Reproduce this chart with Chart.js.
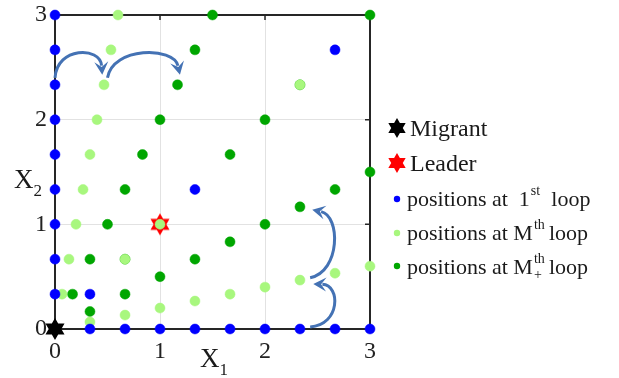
<!DOCTYPE html>
<html>
<head>
<meta charset="utf-8">
<script src="https://cdn.jsdelivr.net/npm/chart.js@4/dist/chart.umd.min.js"></script>
<style>
  html, body { margin: 0; padding: 0; background: #fff; }
  #wrap { position: relative; width: 619px; height: 378px; font-family: "Liberation Serif", "Times New Roman", serif; color: #1a1a1a; }
  #c { position: absolute; left: 0; top: 0; }
  .t { position: absolute; white-space: pre; line-height: 1; }
  .leg { font-size: 22px; }
  .big { font-size: 24px; }
  .stack { display: inline-block; position: relative; width: 16px; height: 10px; }
  .stack .up { position: absolute; left: 1px; top: -12px; font-size: 14px; }
  .stack .dn { position: absolute; left: 1px; top: 4px; font-size: 14px; }
</style>
</head>
<body>
<div id="wrap">
  <canvas id="c" width="619" height="378"></canvas>
  <div class="t" style="left:200px;top:345px;font-size:27px;">X<span style="font-size:17px;position:relative;top:8px;">1</span></div>
  <div class="t" style="left:14px;top:166px;font-size:27px;">X<span style="font-size:17px;position:relative;top:8px;">2</span></div>
  <div class="t big" style="left:410px;top:116px;">Migrant</div>
  <div class="t big" style="left:410px;top:151px;">Leader</div>
  <div class="t leg" style="left:407px;top:188px;">positions at  1<span class="stack"><span class="up">st</span></span> loop</div>
  <div class="t leg" style="left:407px;top:222px;">positions at M<span class="stack"><span class="up">th</span></span>loop</div>
  <div class="t leg" style="left:407px;top:256px;">positions at M<span class="stack"><span class="up">th</span><span class="dn">+</span></span>loop</div>
</div>
<script>
// Agent positions (X1, X2) for each stage of the procedure
const firstLoopX = [0.333, 0.667, 1, 1.333, 1.667, 2, 2.333, 2.667, 3,
                    0, 0, 0, 0, 0, 0, 0, 0, 0,
                    0.333, 1.333, 2.667];
const firstLoopY = [0, 0, 0, 0, 0, 0, 0, 0, 0,
                    0.333, 0.667, 1, 1.333, 1.667, 2, 2.333, 2.667, 3,
                    0.333, 1.333, 2.667];

const mLoopX = [0.6, 0.533, 0.467, 0.4, 0.333, 0.267, 0.2, 0.133, 0.067,
                0.333, 0.667, 1, 1.333, 1.667, 2, 2.333, 2.667, 3,
                2.333, 0.667, 1];
const mLoopY = [3, 2.667, 2.333, 2, 1.667, 1.333, 1, 0.667, 0.333,
                0.067, 0.133, 0.2, 0.267, 0.333, 0.4, 0.467, 0.533, 0.6,
                2.333, 0.667, 1];

const mPlusLoopX = [1.5, 1.333, 1.167, 1, 0.833, 0.667, 0.5, 0.333, 0.167,
                    0.333, 0.667, 1, 1.333, 1.667, 2, 2.333, 2.667, 3,
                    3, 2, 1.667, 2.333, 0.667];
const mPlusLoopY = [3, 2.667, 2.333, 2, 1.667, 1.333, 1, 0.667, 0.333,
                    0.167, 0.333, 0.5, 0.667, 0.833, 1, 1.167, 1.333, 1.5,
                    3, 2, 1.667, 2.333, 0.667];

const migrant = [0, 0];
const leader = [1, 1];

const tickValues = [0, 1, 2, 3];

// Curved arrows: [start, control1, control2, end] in data units
const arrowPaths = [
  [[0.0, 2.40], [0.02, 2.70], [0.43, 2.70], [0.45, 2.43]],
  [[0.50, 2.40], [0.55, 2.70], [1.13, 2.70], [1.19, 2.43]],
  [[2.43, 0.02], [2.72, 0.04], [2.72, 0.42], [2.46, 0.43]],
  [[2.43, 0.49], [2.72, 0.55], [2.72, 1.08], [2.45, 1.14]]
];

const BLUE = '#0000ff';
const LIGHT = '#a8f77e';
const GREEN = '#00a600';
const ARROW = '#4472b4';
const SERIF = '"Liberation Serif", "Times New Roman", serif';

function pts(xs, ys) { return xs.map((x, i) => ({ x: x, y: ys[i] })); }

function hexPath(ctx, cx, cy, r) {
  ctx.beginPath();
  for (let t = 0; t < 2; t++) {
    const off = t === 0 ? -Math.PI / 2 : Math.PI / 2;
    for (let k = 0; k < 3; k++) {
      const a = off + k * 2 * Math.PI / 3;
      const px = cx + r * Math.cos(a), py = cy + r * Math.sin(a);
      if (k === 0) ctx.moveTo(px, py); else ctx.lineTo(px, py);
    }
    ctx.closePath();
  }
}

function hexagram(color, r) {
  const s = Math.ceil(r * 2 + 2);
  const cv = document.createElement('canvas');
  cv.width = s; cv.height = s;
  const g = cv.getContext('2d');
  g.fillStyle = color;
  hexPath(g, s / 2, s / 2, r);
  g.fill('nonzero');
  return cv;
}

const frame = {
  id: 'frame',
  beforeDatasetsDraw(chart) {
    const { ctx, chartArea: a } = chart;
    const xs = chart.scales.x, ys = chart.scales.y;
    ctx.save();
    ctx.strokeStyle = '#262626';
    ctx.lineWidth = 2;
    ctx.strokeRect(a.left, a.top, a.right - a.left, a.bottom - a.top);
    ctx.lineWidth = 1.5;
    ctx.beginPath();
    [1, 2].forEach(v => {
      const px = xs.getPixelForValue(v), py = ys.getPixelForValue(v);
      ctx.moveTo(px, a.top); ctx.lineTo(px, a.top + 5);
      ctx.moveTo(px, a.bottom); ctx.lineTo(px, a.bottom - 5);
      ctx.moveTo(a.right, py); ctx.lineTo(a.right - 5, py);
      ctx.moveTo(a.left, py); ctx.lineTo(a.left + 5, py);
    });
    ctx.stroke();
    ctx.restore();
  },
  afterDatasetsDraw(chart) {
    const { ctx } = chart;
    const xs = chart.scales.x, ys = chart.scales.y;
    ctx.save();
    ctx.strokeStyle = ARROW;
    ctx.fillStyle = ARROW;
    ctx.lineWidth = 3;
    ctx.lineCap = 'butt';
    arrowPaths.forEach(p => {
      const q = p.map(v => [xs.getPixelForValue(v[0]), ys.getPixelForValue(v[1])]);
      const ang = Math.atan2(q[3][1] - q[2][1], q[3][0] - q[2][0]);
      const L = 13, W = 7;
      const ex = q[3][0] - Math.cos(ang) * L * 0.7, ey = q[3][1] - Math.sin(ang) * L * 0.7;
      ctx.beginPath();
      ctx.moveTo(q[0][0], q[0][1]);
      ctx.bezierCurveTo(q[1][0], q[1][1], q[2][0], q[2][1], ex, ey);
      ctx.stroke();
      ctx.beginPath();
      ctx.moveTo(q[3][0], q[3][1]);
      ctx.lineTo(q[3][0] - Math.cos(ang) * L + Math.sin(ang) * W, q[3][1] - Math.sin(ang) * L - Math.cos(ang) * W);
      ctx.lineTo(q[3][0] - Math.cos(ang) * L * 0.6, q[3][1] - Math.sin(ang) * L * 0.6);
      ctx.lineTo(q[3][0] - Math.cos(ang) * L - Math.sin(ang) * W, q[3][1] - Math.sin(ang) * L + Math.cos(ang) * W);
      ctx.closePath();
      ctx.fill();
    });
    ctx.restore();
  },
  afterDraw(chart) {
    // legend markers
    const ctx = chart.ctx;
    ctx.save();
    ctx.fillStyle = '#000';
    hexPath(ctx, 397, 128, 10); ctx.fill();
    ctx.fillStyle = '#ff0000';
    hexPath(ctx, 397, 163, 10); ctx.fill();
    [[BLUE, 199], [LIGHT, 233], [GREEN, 266]].forEach(([c, y]) => {
      ctx.fillStyle = c;
      ctx.beginPath(); ctx.arc(397, y, 3.2, 0, Math.PI * 2); ctx.fill();
    });
    ctx.restore();
  }
};

const dotStyle = (c) => ({ backgroundColor: c, borderColor: c, pointRadius: 5, pointBorderWidth: 0.5, pointHoverRadius: 5, clip: false });

new Chart(document.getElementById('c'), {
  type: 'scatter',
  data: {
    datasets: [
      { label: 'Migrant', data: [{ x: migrant[0], y: migrant[1] }], pointStyle: hexagram('#000', 11), pointRadius: 11, clip: false, order: 0 },
      { label: 'positions at 1st loop', data: pts(firstLoopX, firstLoopY), ...dotStyle(BLUE), order: 1 },
      { label: 'positions at Mth loop', data: pts(mLoopX, mLoopY), ...dotStyle(LIGHT), order: 2 },
      { label: 'Leader', data: [{ x: leader[0], y: leader[1] }], pointStyle: hexagram('#ff0000', 11), pointRadius: 11, clip: false, order: 3 },
      { label: 'positions at M+th loop', data: pts(mPlusLoopX, mPlusLoopY), ...dotStyle(GREEN), order: 4 }
    ]
  },
  options: {
    responsive: false,
    animation: false,
    devicePixelRatio: 1,
    layout: { padding: { top: 15, right: 249, bottom: 0, left: 0 } },
    plugins: { legend: { display: false }, tooltip: { enabled: false } },
    scales: {
      x: {
        type: 'linear', min: 0, max: 3,
        afterBuildTicks(s) { s.ticks = tickValues.map(v => ({ value: v })); },
        ticks: { font: { family: SERIF, size: 24, lineHeight: 0.5 }, color: '#222', padding: 17, maxRotation: 0 },
        grid: { color: '#e2e2e2', lineWidth: 1, drawTicks: false },
        border: { display: false },
        afterFit(s) { s.height = 49; }
      },
      y: {
        type: 'linear', min: 0, max: 3,
        afterBuildTicks(s) { s.ticks = tickValues.map(v => ({ value: v })); },
        ticks: { font: { family: SERIF, size: 24, lineHeight: 0.5 }, color: '#222', padding: 8 },
        grid: { color: '#e2e2e2', lineWidth: 1, drawTicks: false },
        border: { display: false },
        afterFit(s) { s.width = 55; }
      }
    }
  },
  plugins: [frame]
});
</script>
</body>
</html>
